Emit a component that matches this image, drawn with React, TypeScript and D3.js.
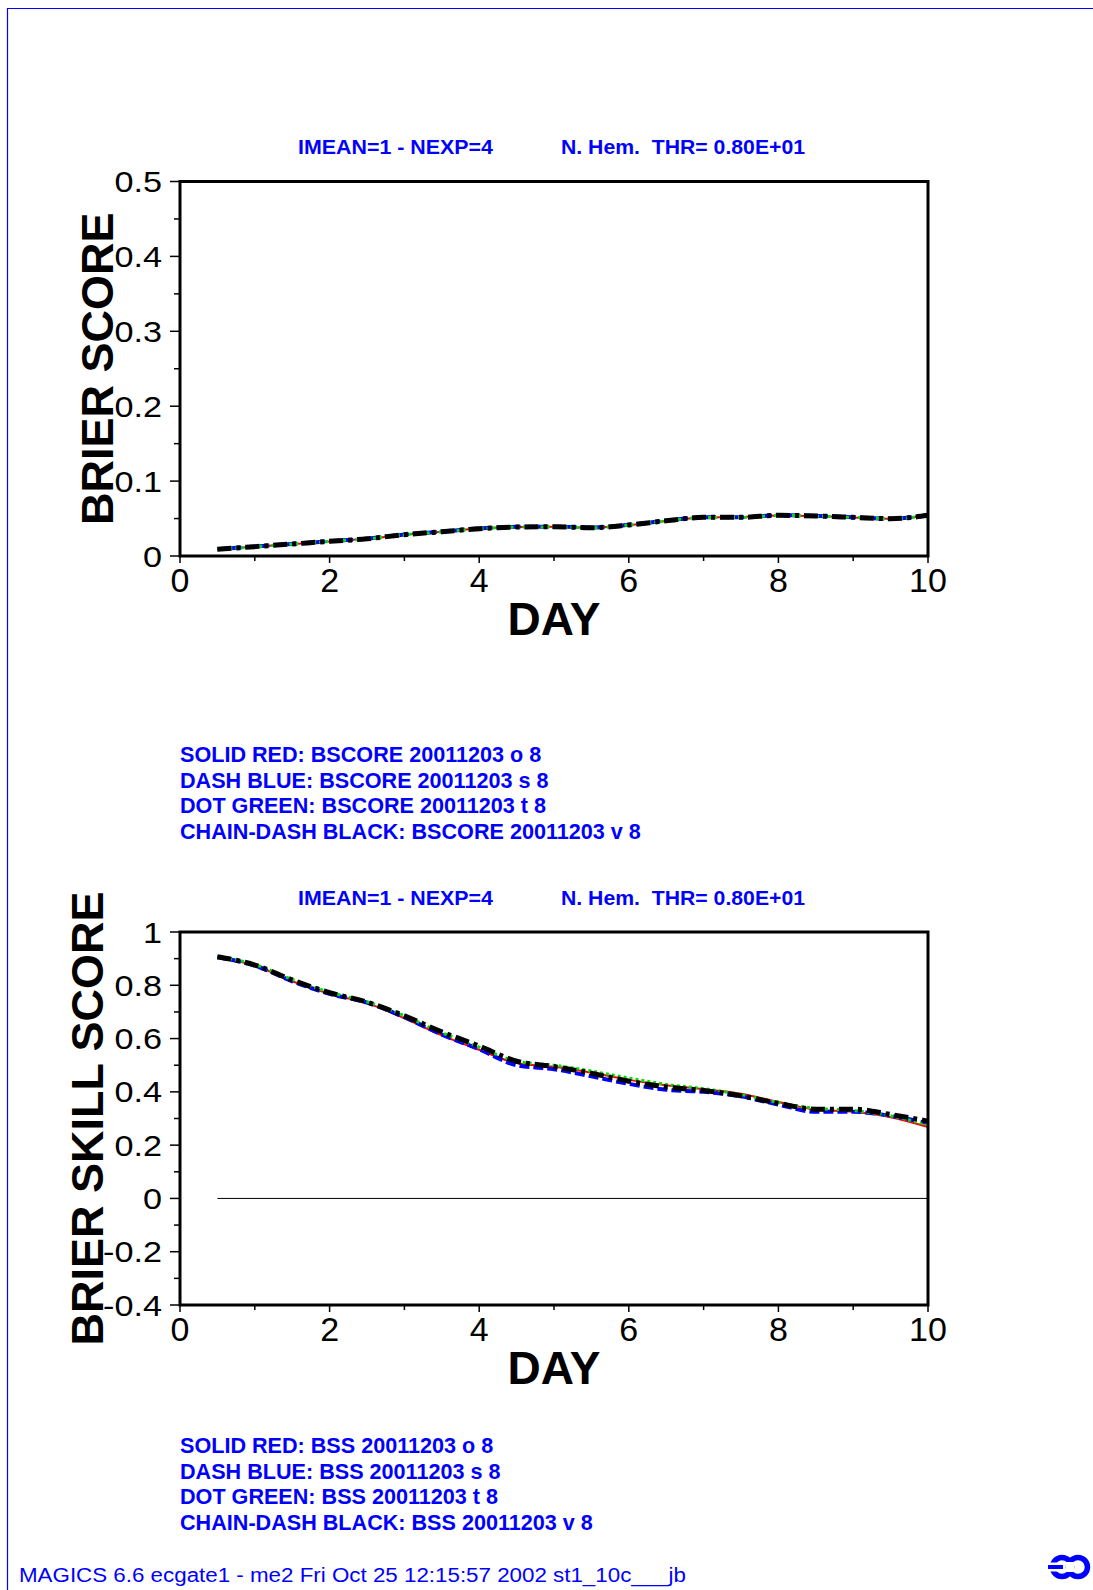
import React from 'react';
import * as d3 from 'd3';

// ---- data ----
const days = [0.5, 1, 1.5, 2, 2.5, 3, 3.5, 4, 4.5, 5, 5.5, 6, 6.5, 7, 7.5, 8, 8.5, 9, 9.5, 10];

const bsRed = [0.0088, 0.0123, 0.0158, 0.0195, 0.0231, 0.0283, 0.0324, 0.0366, 0.0386, 0.0389, 0.0377, 0.0413, 0.0468, 0.0514, 0.0518, 0.0541, 0.0533, 0.0514, 0.0497, 0.0541];
const bsBlue = [0.0091, 0.0126, 0.0161, 0.0197, 0.0232, 0.0286, 0.0326, 0.0368, 0.0389, 0.0392, 0.0380, 0.0416, 0.0472, 0.0517, 0.0517, 0.0544, 0.0536, 0.0518, 0.0499, 0.0545];
const bsGreen = [0.0089, 0.0124, 0.0159, 0.0195, 0.0229, 0.0284, 0.0324, 0.0364, 0.0386, 0.0389, 0.0377, 0.0413, 0.0469, 0.0515, 0.0515, 0.0542, 0.0533, 0.0515, 0.0497, 0.0542];
const bsBlack = [0.009, 0.0125, 0.016, 0.0196, 0.023, 0.0285, 0.0325, 0.0365, 0.0387, 0.039, 0.0378, 0.0414, 0.047, 0.0516, 0.0516, 0.0543, 0.0534, 0.0516, 0.0498, 0.0543];

const bssRed = [0.905, 0.874, 0.815, 0.768, 0.733, 0.676, 0.612, 0.558, 0.508, 0.494, 0.472, 0.445, 0.425, 0.41, 0.393, 0.362, 0.333, 0.325, 0.305, 0.268];
const bssBlue = [0.905, 0.874, 0.815, 0.768, 0.735, 0.68, 0.615, 0.56, 0.5, 0.485, 0.458, 0.43, 0.408, 0.4, 0.383, 0.352, 0.325, 0.325, 0.31, 0.282];
const bssGreen = [0.908, 0.878, 0.822, 0.774, 0.738, 0.686, 0.622, 0.568, 0.515, 0.5, 0.478, 0.452, 0.428, 0.412, 0.39, 0.36, 0.338, 0.33, 0.31, 0.275];
const bssBlack = [0.907, 0.876, 0.82, 0.772, 0.737, 0.685, 0.625, 0.572, 0.515, 0.495, 0.47, 0.44, 0.418, 0.405, 0.385, 0.357, 0.335, 0.335, 0.315, 0.29];

const zeroLine = [0, 0];
const zeroDays = [0.5, 10];

const headerLeft = 'IMEAN=1 - NEXP=4';
const headerRight = 'N. Hem.  THR= 0.80E+01';

const bsLegend = [
  'SOLID RED: BSCORE 20011203 o 8',
  'DASH BLUE: BSCORE 20011203 s 8',
  'DOT GREEN: BSCORE 20011203 t 8',
  'CHAIN-DASH BLACK: BSCORE 20011203 v 8',
];
const bssLegend = [
  'SOLID RED: BSS 20011203 o 8',
  'DASH BLUE: BSS 20011203 s 8',
  'DOT GREEN: BSS 20011203 t 8',
  'CHAIN-DASH BLACK: BSS 20011203 v 8',
];

const footer = 'MAGICS 6.6 ecgate1 - me2 Fri Oct 25 12:15:57 2002 st1_10c___jb';

const FONT = '"Liberation Sans", Arial, Helvetica, sans-serif';
const BLUE = '#0000ff';

const lineStyles = [
  { color: '#ff0000', width: 2, dash: undefined },
  { color: '#0000ff', width: 4, dash: '10,4' },
  { color: '#00e000', width: 3, dash: '3,3' },
  { color: '#000000', width: 5, dash: '14,5,4,5' },
];

const fmt = (v: number) => String(+v.toFixed(2));

type ChartProps = {
  top: number;
  bottom: number;
  yDomain: [number, number];
  yMajor: number;
  yMinor: number;
  series: number[][];
  yTitle: string;
  yTitleX: number;
  showZero?: boolean;
};

const Chart = ({ top, bottom, yDomain, yMajor, yMinor, series, yTitle, yTitleX, showZero }: ChartProps) => {
  const left = 180;
  const right = 928;
  const x = d3.scaleLinear().domain([0, 10]).range([left, right]);
  const y = d3.scaleLinear().domain(yDomain).range([bottom, top]);

  const line = d3.line<number>()
    .x((_, i) => x(days[i]))
    .y(d => y(d))
    .curve(d3.curveMonotoneX);

  const zero = d3.line<number>()
    .x((_, i) => x(zeroDays[i]))
    .y(d => y(d));

  const xMajor = x.ticks(5);
  const xMinor = x.ticks(10).filter(t => !xMajor.includes(t));
  const yMaj = y.ticks(yMajor);
  const yMin = y.ticks(yMinor).filter(t => !yMaj.some(m => Math.abs(m - t) < 1e-9));

  return (
    <g>
      {/* header */}
      <text x={298} y={top - 27.5} fontFamily={FONT} fontWeight="bold" fontSize={20} fill={BLUE}
        textLength={195} lengthAdjust="spacingAndGlyphs" style={{ whiteSpace: 'pre' }}>{headerLeft}</text>
      <text x={561} y={top - 27.5} fontFamily={FONT} fontWeight="bold" fontSize={20} fill={BLUE}
        textLength={244} lengthAdjust="spacingAndGlyphs" style={{ whiteSpace: 'pre' }}>{headerRight}</text>

      {showZero && (
        <path d={zero(zeroLine) || ''} fill="none" stroke="#000" strokeWidth={1} />
      )}

      {series.map((s, i) => (
        <path key={i} d={line(s) || ''} fill="none" stroke={lineStyles[i].color}
          strokeWidth={lineStyles[i].width} strokeDasharray={lineStyles[i].dash} />
      ))}

      {/* frame */}
      <rect x={left} y={top} width={right - left} height={bottom - top} fill="none" stroke="#000" strokeWidth={3} />

      {/* y ticks */}
      {yMaj.map(t => (
        <g key={'ym' + t}>
          <line x1={left - 10} x2={left} y1={y(t)} y2={y(t)} stroke="#000" strokeWidth={1.5} />
          <text transform={`translate(162,${y(t) + 10.5}) scale(1.18,1)`} textAnchor="end"
            fontFamily={FONT} fontSize={29} fill="#000">{fmt(t)}</text>
        </g>
      ))}
      {yMin.map(t => (
        <line key={'yn' + t} x1={left - 6} x2={left} y1={y(t)} y2={y(t)} stroke="#000" strokeWidth={1.5} />
      ))}

      {/* x ticks */}
      {xMajor.map(t => (
        <g key={'xm' + t}>
          <line x1={x(t)} x2={x(t)} y1={bottom} y2={bottom + 7} stroke="#000" strokeWidth={1.5} />
          <text x={x(t)} y={bottom + 36} textAnchor="middle" fontFamily={FONT} fontSize={34} fill="#000">{fmt(t)}</text>
        </g>
      ))}
      {xMinor.map(t => (
        <line key={'xn' + t} x1={x(t)} x2={x(t)} y1={bottom} y2={bottom + 5} stroke="#000" strokeWidth={1.5} />
      ))}

      <text x={(left + right) / 2} y={bottom + 79} textAnchor="middle" fontFamily={FONT}
        fontWeight="bold" fontSize={46} fill="#000">DAY</text>

      <text transform={`translate(${yTitleX},${(top + bottom) / 2}) rotate(-90)`} textAnchor="middle"
        fontFamily={FONT} fontWeight="bold" fontSize={45} fill="#000">{yTitle}</text>
    </g>
  );
};

const Legend = ({ lines, baseline }: { lines: string[]; baseline: number }) => (
  <g>
    {lines.map((l, i) => (
      <text key={i} x={180} y={baseline + i * 25.7} fontFamily={FONT} fontWeight="bold" fontSize={21.6} fill={BLUE}>{l}</text>
    ))}
  </g>
);

const Logo = () => (
  <g fill="none">
    <circle cx={1062} cy={1567} r={9.5} stroke={BLUE} strokeWidth={5.5} />
    <circle cx={1078} cy={1567} r={9.5} stroke={BLUE} strokeWidth={5.5} />
    <rect x={1066} y={1562} width={8} height={10} fill="#fff" />
    <rect x={1045} y={1562.5} width={18} height={9} fill="#fff" />
    <rect x={1048} y={1565} width={15} height={4} fill={BLUE} />
  </g>
);

export default function App() {
  return (
    <svg width={1093} height={1590} style={{ position: 'absolute', left: 0, top: 0, display: 'block', background: '#fff' }}>
      <rect x={0} y={0} width={1093} height={1590} fill="#fff" />
      <path d="M7.5,1590 V8.5 H1093" fill="none" stroke={BLUE} strokeWidth={1.2} />

      <Chart top={181.5} bottom={556} yDomain={[0, 0.5]} yMajor={5} yMinor={10}
        series={[bsRed, bsBlue, bsGreen, bsBlack]} yTitle="BRIER SCORE" yTitleX={113} />
      <Legend lines={bsLegend} baseline={762} />

      <Chart top={932} bottom={1305} yDomain={[-0.4, 1]} yMajor={7} yMinor={14}
        series={[bssRed, bssBlue, bssGreen, bssBlack]} yTitle="BRIER SKILL SCORE" yTitleX={103} showZero />
      <Legend lines={bssLegend} baseline={1453} />

      <text x={19} y={1582} fontFamily={FONT} fontSize={20} fill={BLUE}
        textLength={667} lengthAdjust="spacingAndGlyphs">{footer}</text>
      <Logo />
    </svg>
  );
}
